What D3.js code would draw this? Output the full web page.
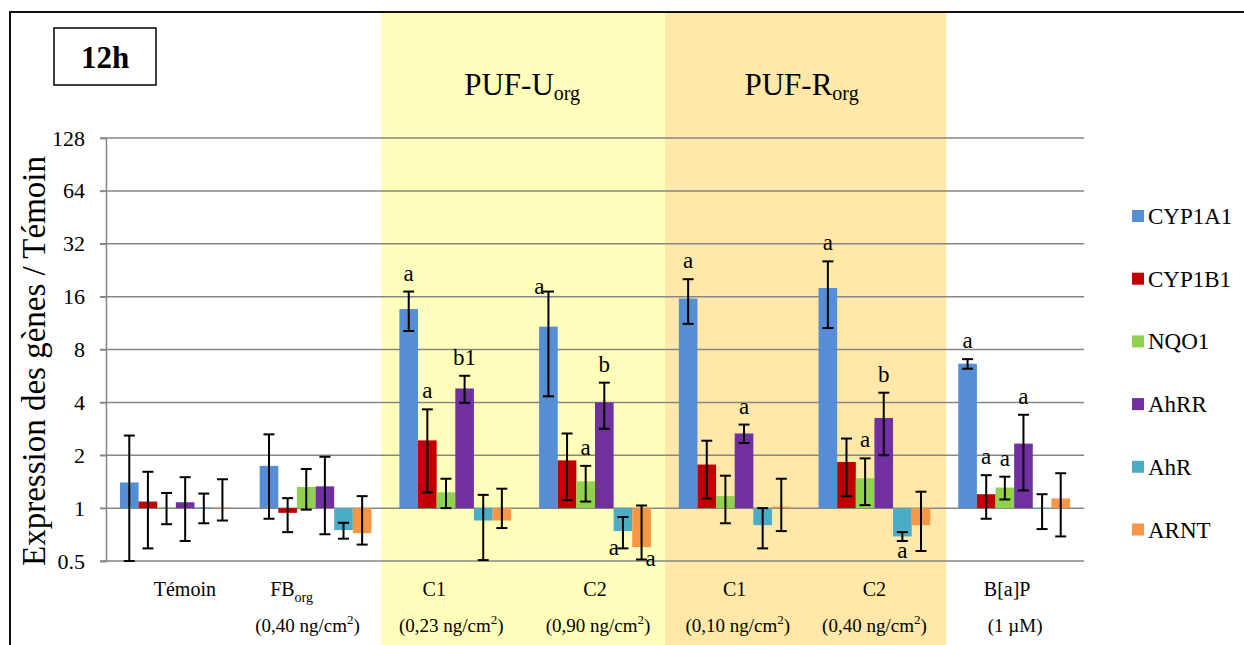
<!DOCTYPE html>
<html>
<head>
<meta charset="utf-8">
<script src="https://cdn.jsdelivr.net/npm/d3@7/dist/d3.min.js"></script>
<style>
  body { margin: 0; background: #fff; }
  svg { display: block; font-family: "Liberation Serif", "Times New Roman", serif; }
</style>
</head>
<body>
<svg id="chart"></svg>
<script>
// groups on the x axis
var groups = ['Témoin', 'FB', 'C1U', 'C2U', 'C1R', 'C2R', 'BaP'];
var series = ['CYP1A1', 'CYP1B1', 'NQO1', 'AhRR', 'AhR', 'ARNT'];
var colors = ['#558ED5', '#C00000', '#92D050', '#7030A0', '#4BACC6', '#F79646'];

// mean expression / Témoin, one value per group
var cyp1a1 = [1.40, 1.74, 13.6, 10.8, 15.6, 17.9, 6.64];
var cyp1b1 = [1.09, 0.94, 2.43, 1.87, 1.77, 1.83, 1.20];
var nqo1   = [1.01, 1.32, 1.23, 1.42, 1.17, 1.48, 1.31];
var ahrr   = [1.08, 1.33, 4.80, 4.00, 2.66, 3.26, 2.33];
var ahr    = [1.01, 0.75, 0.85, 0.74, 0.80, 0.69, 0.99];
var arnt   = [1.01, 0.72, 0.85, 0.60, 1.02, 0.80, 1.135];

// error bar ends (upper / lower)
var cyp1a1Hi = [2.59, 2.63, 17.1, 17.1, 20.1, 25.4, 7.05];
var cyp1a1Lo = [0.50, 0.87, 10.2, 4.33, 11.2, 10.6, 6.22];
var cyp1b1Hi = [1.61, 1.14, 3.65, 2.66, 2.42, 2.49, 1.54];
var cyp1b1Lo = [0.59, 0.73, 1.23, 1.11, 1.135, 1.17, 0.87];
var nqo1Hi   = [1.22, 1.67, 1.47, 1.74, 1.53, 1.92, 1.51];
var nqo1Lo   = [0.81, 0.98, 1.00, 1.09, 0.82, 1.04, 1.12];
var ahrrHi   = [1.50, 1.96, 5.67, 5.18, 2.99, 4.54, 3.40];
var ahrrLo   = [0.65, 0.71, 3.98, 2.83, 2.35, 2.00, 1.26];
var ahrHi    = [1.21, 0.825, 1.19, 0.89, 1.00, 0.73, 1.20];
var ahrLo    = [0.82, 0.67, 0.506, 0.59, 0.59, 0.65, 0.76];
var arntHi   = [1.46, 1.17, 1.29, 1.035, 1.47, 1.24, 1.58];
var arntLo   = [0.85, 0.62, 0.77, 0.51, 0.74, 0.57, 0.69];

var values = [cyp1a1, cyp1b1, nqo1, ahrr, ahr, arnt];
var highs = [cyp1a1Hi, cyp1b1Hi, nqo1Hi, ahrrHi, ahrHi, arntHi];
var lows = [cyp1a1Lo, cyp1b1Lo, nqo1Lo, ahrrLo, ahrLo, arntLo];

// significance letters: group, series, text, where
var letters = [
  ['C1U', 'CYP1A1', 'a', 'top'], ['C1U', 'CYP1B1', 'a', 'top'], ['C1U', 'AhRR', 'b1', 'top'],
  ['C2U', 'CYP1A1', 'a', 'topLeft'], ['C2U', 'NQO1', 'a', 'top'], ['C2U', 'AhRR', 'b', 'top'],
  ['C2U', 'AhR', 'a', 'bottomLeft'], ['C2U', 'ARNT', 'a', 'bottomRight'],
  ['C1R', 'CYP1A1', 'a', 'top'], ['C1R', 'AhRR', 'a', 'top'],
  ['C2R', 'CYP1A1', 'a', 'top'], ['C2R', 'NQO1', 'a', 'top'], ['C2R', 'AhRR', 'b', 'top'],
  ['C2R', 'AhR', 'a', 'bottom'],
  ['BaP', 'CYP1A1', 'a', 'top'], ['BaP', 'CYP1B1', 'a', 'top'], ['BaP', 'NQO1', 'a', 'top'], ['BaP', 'AhRR', 'a', 'top']
];

var yTicks = [0.5, 1, 2, 4, 8, 16, 32, 64, 128];
var labelTop = ['Témoin', 'FB', 'C1', 'C2', 'C1', 'C2', 'B[a]P'];
var labelSub = ['', 'org', '', '', '', '', ''];
var labelDose = ['', '(0,40 ng/cm', '(0,23 ng/cm', '(0,90 ng/cm', '(0,10 ng/cm', '(0,40 ng/cm', '(1 µM)'];

// the category labels are hand-placed text boxes in the original
var nudgeTop = [9, -24, -21, 0, 0, 0, -7];
var nudgeDose = [0, -8, -4, 3, 3, 0, 1];

var width = 1244, height = 645;
var plotLeft = 106, plotRight = 1084, plotTop = 138, plotBottom = 561;

var svg = d3.select('#chart').attr('width', width).attr('height', height);

var x = d3.scaleBand().domain(groups).range([plotLeft, plotRight]).paddingInner(0.2).paddingOuter(0.1);
var xs = d3.scaleBand().domain(series).range([0, x.bandwidth()]);
var y = d3.scaleLog().base(2).domain([0.5, 128]).range([plotBottom, plotTop]);
var half = x.step() * 0.1;

// shaded groups
svg.append('rect')
  .attr('x', x('C1U') - half - 4).attr('y', 13)
  .attr('width', x('C2U') + x.bandwidth() + half - x('C1U') + half + 4).attr('height', height - 13)
  .attr('fill', '#FFFFBB');
svg.append('rect')
  .attr('x', x('C1R') - half).attr('y', 13)
  .attr('width', x('C2R') + x.bandwidth() + half - x('C1R') + half + 2).attr('height', height - 13)
  .attr('fill', '#FFE8A8');

// frame (top + left lines)
svg.append('path').attr('d', 'M10,' + height + 'V12H' + width)
  .attr('fill', 'none').attr('stroke', '#111').attr('stroke-width', 2);

// gridlines
svg.append('g').selectAll('line').data(yTicks).join('line')
  .attr('x1', plotLeft - 6).attr('x2', plotRight)
  .attr('y1', d => y(d)).attr('y2', d => y(d))
  .attr('stroke', '#868686').attr('stroke-width', 1.5);

// y axis
var yAxis = d3.axisLeft(y).tickValues(yTicks).tickFormat(d => d).tickSize(6).tickPadding(15);
var ga = svg.append('g').attr('transform', 'translate(' + plotLeft + ',0)').call(yAxis);
ga.select('.domain').attr('stroke', '#868686').attr('stroke-width', 1.5);
ga.selectAll('.tick line').attr('stroke', '#868686').attr('stroke-width', 1.5);
ga.selectAll('.tick text').attr('font-size', 22).attr('font-family', 'Liberation Serif').attr('fill', '#000');

svg.append('text')
  .attr('transform', 'rotate(-90)')
  .attr('x', -361).attr('y', 45)
  .attr('text-anchor', 'middle')
  .attr('font-size', 33)
  .text('Expression des gènes / Témoin');

// bars
var flat = [];
series.forEach((s, i) => {
  groups.forEach((g, j) => {
    flat.push({ g: g, s: s, i: i, v: values[i][j], hi: highs[i][j], lo: lows[i][j] });
  });
});

svg.append('g').selectAll('rect').data(flat).join('rect')
  .attr('x', d => x(d.g) + xs(d.s))
  .attr('width', xs.bandwidth())
  .attr('y', d => Math.min(y(d.v), y(1)))
  .attr('height', d => Math.abs(y(d.v) - y(1)))
  .attr('fill', d => colors[d.i]);

// error bars
var eb = svg.append('g').attr('stroke', '#000').attr('stroke-width', 2);
flat.forEach(d => {
  var cx = x(d.g) + xs(d.s) + xs.bandwidth() / 2;
  eb.append('line').attr('x1', cx).attr('x2', cx).attr('y1', y(d.hi)).attr('y2', y(d.lo));
  eb.append('line').attr('x1', cx - 5.5).attr('x2', cx + 5.5).attr('y1', y(d.hi)).attr('y2', y(d.hi));
  eb.append('line').attr('x1', cx - 5.5).attr('x2', cx + 5.5).attr('y1', y(d.lo)).attr('y2', y(d.lo));
});

// letters
svg.append('g').selectAll('text').data(letters).join('text')
  .attr('font-size', 23)
  .attr('text-anchor', d => d[3] === 'topLeft' || d[3] === 'bottomLeft' ? 'end' : (d[3] === 'bottomRight' ? 'start' : 'middle'))
  .attr('x', d => {
    var cx = x(d[0]) + xs(d[1]) + xs.bandwidth() / 2;
    if (d[3] === 'topLeft' || d[3] === 'bottomLeft') return cx - 4;
    if (d[3] === 'bottomRight') return cx + 4;
    return cx;
  })
  .attr('y', d => {
    var k = series.indexOf(d[1]), j = groups.indexOf(d[0]);
    if (d[3] === 'top') return y(highs[k][j]) - 11;
    if (d[3] === 'topLeft') return y(highs[k][j]) + 2;
    if (d[3] === 'bottom') return y(lows[k][j]) + 17;
    return y(lows[k][j]) + 7;
  })
  .text(d => d[2]);

// category labels
var lab = svg.append('g').attr('text-anchor', 'middle').attr('font-size', 20);
groups.forEach((g, j) => {
  var cx = x(g) + x.bandwidth() / 2;
  var t = lab.append('text').attr('x', cx + nudgeTop[j]).attr('y', 596).text(labelTop[j]);
  if (labelSub[j]) t.append('tspan').attr('font-size', 14).attr('dy', 6).text(labelSub[j]);
  if (labelDose[j]) {
    var t2 = lab.append('text').attr('x', cx + nudgeDose[j]).attr('y', 632).attr('font-size', 19).text(labelDose[j]);
    if (labelDose[j].indexOf('cm') > 0) {
      t2.append('tspan').attr('font-size', 13).attr('dy', -8).text('2');
      t2.append('tspan').attr('dy', 8).text(')');
    }
  }
});

// group headings
[['PUF-U', 'C1U', 'C2U'], ['PUF-R', 'C1R', 'C2R']].forEach(h => {
  var cx = (x(h[1]) + x(h[2]) + x.bandwidth()) / 2;
  var t = svg.append('text').attr('x', cx - 3).attr('y', 95).attr('text-anchor', 'middle').attr('font-size', 31).text(h[0]);
  t.append('tspan').attr('font-size', 20).attr('dy', 5).text('org');
});

// 12h box
svg.append('rect').attr('x', 54).attr('y', 28).attr('width', 102).attr('height', 57)
  .attr('fill', '#fff').attr('stroke', '#000').attr('stroke-width', 1.5);
svg.append('text').attr('x', 105).attr('y', 68).attr('text-anchor', 'middle')
  .attr('font-size', 31).attr('font-weight', 'bold').text('12h');

// legend
var lg = svg.append('g').selectAll('g').data(series).join('g')
  .attr('transform', (d, i) => 'translate(1132,' + (216 + i * 62.7) + ')');
lg.append('rect').attr('y', -6).attr('width', 12).attr('height', 12).attr('fill', (d, i) => colors[i]);
lg.append('text').attr('x', 16).attr('dy', '0.35em').attr('font-size', 23).text(d => d);
</script>
</body>
</html>
